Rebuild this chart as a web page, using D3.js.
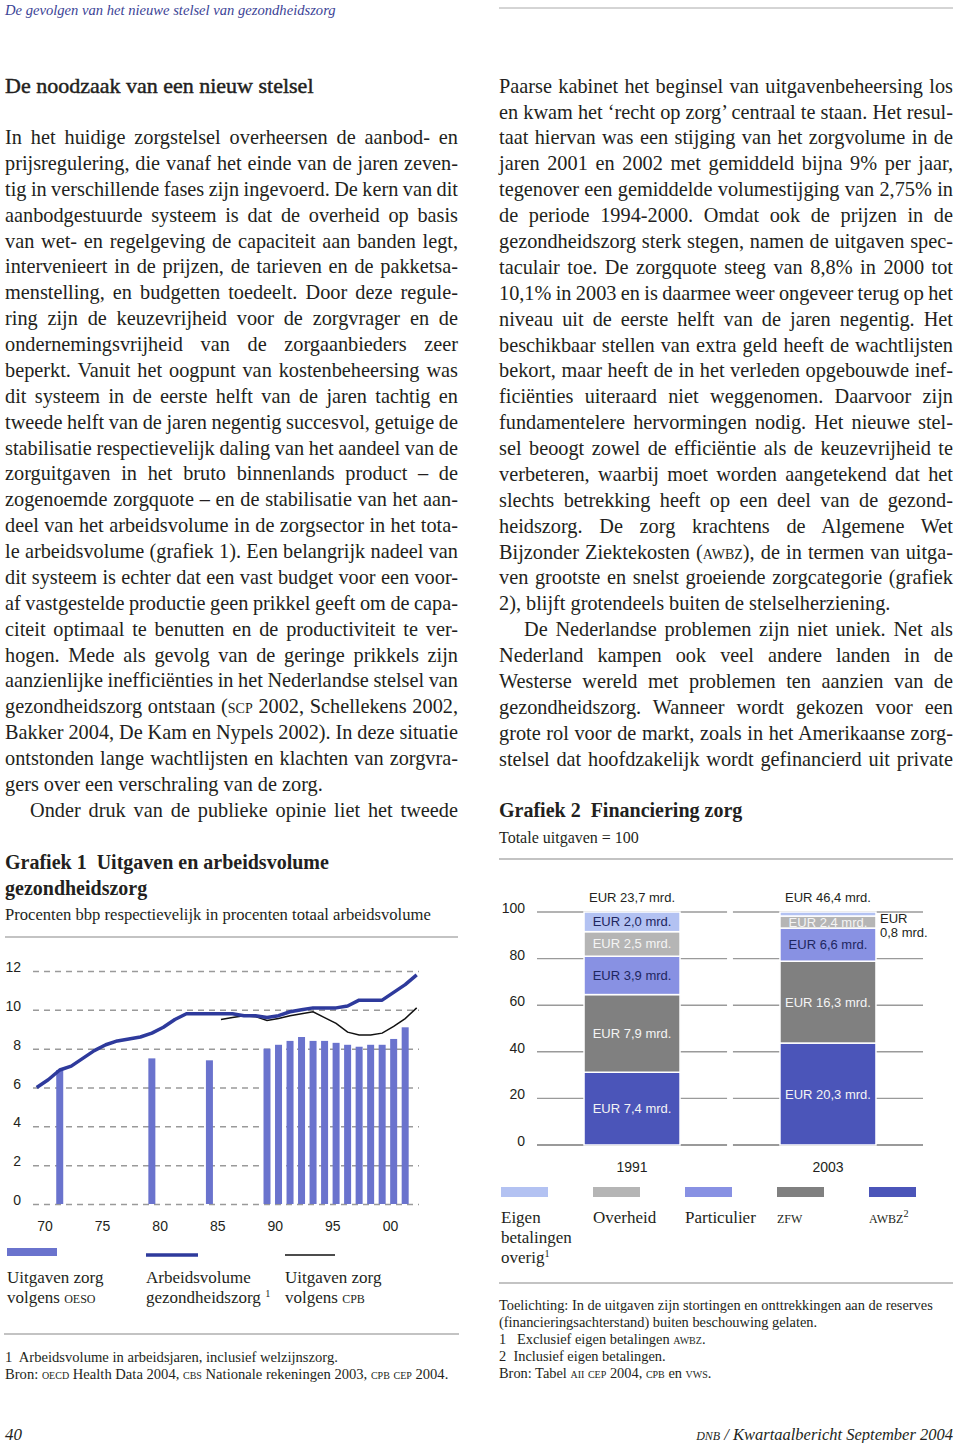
<!DOCTYPE html>
<html>
<head>
<meta charset="utf-8">
<script src="https://cdn.jsdelivr.net/npm/d3@7"></script>
<style>
body { margin: 0; background: #fff; }
svg { display: block; }
.serif { font-family: "Liberation Serif", "Times New Roman", serif; fill: #231f20; }
.sans { font-family: "Liberation Sans", Arial, sans-serif; fill: #231f20; }
</style>
</head>
<body>
<div id="page"></div>
<script>
// ---- grafiek 1: uitgaven en arbeidsvolume (procenten)
const oesoYears = [1972, 1980, 1985, 1990, 1991, 1992, 1993, 1994, 1995, 1996, 1997, 1998, 1999, 2000, 2001, 2002]
const oesoValues = [6.9, 7.5, 7.4, 8.0, 8.2, 8.4, 8.6, 8.4, 8.4, 8.3, 8.2, 8.1, 8.2, 8.2, 8.5, 9.1]
const laborYears = d3.range(1970, 2004)
const laborValues = [6.0, 6.4, 6.9, 7.1, 7.5, 7.9, 8.2, 8.4, 8.5, 8.6, 8.8, 9.1, 9.5, 9.8, 9.8, 9.8, 9.8, 9.8,
    9.7, 9.7, 9.6, 9.7, 9.9, 10.0, 10.1, 10.1, 10.1, 10.2, 10.5, 10.5, 10.5, 10.9, 11.3, 11.8]
const cpbYears = d3.range(1986, 2004)
const cpbValues = [9.5, 9.6, 9.7, 9.65, 9.45, 9.55, 9.7, 9.8, 9.9, 9.6, 9.3, 8.85, 8.7, 8.7, 8.8, 9.15, 9.55, 10.1]
const yTicks1 = [0, 2, 4, 6, 8, 10, 12]
const xTicks1 = [1970, 1975, 1980, 1985, 1990, 1995, 2000]

// ---- grafiek 2: financiering zorg (EUR mrd.)
const finYears = ['1991', '2003']
const finTotals = [23.7, 46.4]
const finSources = ['Eigen', 'Overheid', 'Particulier', 'ZFW', 'AWBZ']
const eigenValues = [2.0, 0.8]
const overheidValues = [2.5, 2.4]
const particulierValues = [3.9, 6.6]
const zfwValues = [7.9, 16.3]
const awbzValues = [7.4, 20.3]
const yTicks2 = [0, 20, 40, 60, 80, 100]

// ---- tekst
const leftLines = [
    'In het huidige zorgstelsel overheersen de aanbod- en',
    'prijsregulering, die vanaf het einde van de jaren zeven-',
    'tig in verschillende fases zijn ingevoerd. De kern van dit',
    'aanbodgestuurde systeem is dat de overheid op basis',
    'van wet- en regelgeving de capaciteit aan banden legt,',
    'intervenieert in de prijzen, de tarieven en de pakketsa-',
    'menstelling, en budgetten toedeelt. Door deze regule-',
    'ring zijn de keuzevrijheid voor de zorgvrager en de',
    'ondernemingsvrijheid van de zorgaanbieders zeer',
    'beperkt. Vanuit het oogpunt van kostenbeheersing was',
    'dit systeem in de eerste helft van de jaren tachtig en',
    'tweede helft van de jaren negentig succesvol, getuige de',
    'stabilisatie respectievelijk daling van het aandeel van de',
    'zorguitgaven in het bruto binnenlands product – de',
    'zogenoemde zorgquote – en de stabilisatie van het aan-',
    'deel van het arbeidsvolume in de zorgsector in het tota-',
    'le arbeidsvolume (grafiek 1). Een belangrijk nadeel van',
    'dit systeem is echter dat een vast budget voor een voor-',
    'af vastgestelde productie geen prikkel geeft om de capa-',
    'citeit optimaal te benutten en de productiviteit te ver-',
    'hogen. Mede als gevolg van de geringe prikkels zijn',
    'aanzienlijke inefficiënties in het Nederlandse stelsel van',
    'gezondheidszorg ontstaan ([scp] 2002, Schellekens 2002,',
    'Bakker 2004, De Kam en Nypels 2002). In deze situatie',
    'ontstonden lange wachtlijsten en klachten van zorgvra-',
    'gers over een verschraling van de zorg.¶',
    '>Onder druk van de publieke opinie liet het tweede'
]
const rightLines = [
    'Paarse kabinet het beginsel van uitgavenbeheersing los',
    'en kwam het ‘recht op zorg’ centraal te staan. Het resul-',
    'taat hiervan was een stijging van het zorgvolume in de',
    'jaren 2001 en 2002 met gemiddeld bijna 9% per jaar,',
    'tegenover een gemiddelde volumestijging van 2,75% in',
    'de periode 1994-2000. Omdat ook de prijzen in de',
    'gezondheidszorg sterk stegen, namen de uitgaven spec-',
    'taculair toe. De zorgquote steeg van 8,8% in 2000 tot',
    '10,1% in 2003 en is daarmee weer ongeveer terug op het',
    'niveau uit de eerste helft van de jaren negentig. Het',
    'beschikbaar stellen van extra geld heeft de wachtlijsten',
    'bekort, maar heeft de in het verleden opgebouwde inef-',
    'ficiënties uiteraard niet weggenomen. Daarvoor zijn',
    'fundamentelere hervormingen nodig. Het nieuwe stel-',
    'sel beoogt zowel de efficiëntie als de keuzevrijheid te',
    'verbeteren, waarbij moet worden aangetekend dat het',
    'slechts betrekking heeft op een deel van de gezond-',
    'heidszorg. De zorg krachtens de Algemene Wet',
    'Bijzonder Ziektekosten ([awbz]), de in termen van uitga-',
    'ven grootste en snelst groeiende zorgcategorie (grafiek',
    '2), blijft grotendeels buiten de stelselherziening.¶',
    '>De Nederlandse problemen zijn niet uniek. Net als',
    'Nederland kampen ook veel andere landen in de',
    'Westerse wereld met problemen ten aanzien van de',
    'gezondheidszorg. Wanneer wordt gekozen voor een',
    'grote rol voor de markt, zoals in het Amerikaanse zorg-',
    'stelsel dat hoofdzakelijk wordt gefinancierd uit private'
]

const W = 960, H = 1443
const bodySize = 20.3, lineH = 25.88

const svg = d3.select('#page').append('svg')
    .attr('width', W).attr('height', H)
svg.append('rect').attr('width', W).attr('height', H).attr('fill', '#fff')

// [tekst] = kleinkapitaal, {x} = superscript
function richText(sel, str) {
    str.split(/(\[[^\]]*\]|\{[^}]*\})/).filter(s => s.length).forEach(part => {
        if (part[0] == '[')
            sel.append('tspan').style('font-variant', 'small-caps').text(part.slice(1, -1))
        else if (part[0] == '{')
            sel.append('tspan').attr('dy', -6).attr('font-size', '0.6em').text(part.slice(1, -1))
        else sel.append('tspan').text(part)
    })
    return sel
}

function textBlock(x, y, str, cls, size, extra) {
    const t = svg.append('text').attr('class', cls)
        .attr('x', x).attr('y', y)
        .attr('font-size', size)
        .style('white-space', 'pre')
    if (extra) extra(t)
    return richText(t, str)
}

// uitvullen via woordafstand, samendrukken alleen als het niet anders kan
function column(lines, x0, y0, width) {
    lines.forEach((raw, i) => {
        const indent = raw.startsWith('>') ? 25 : 0
        const last = raw.endsWith('¶')
        const str = raw.replace(/^>/, '').replace(/¶$/, '')
        const t = textBlock(x0 + indent, y0 + i * lineH, str, 'serif', bodySize)
        const target = width - indent
        const nat = t.node().getComputedTextLength()
        const spaces = (str.match(/ /g) || []).length
        if (last && nat <= target) return
        const ws = spaces > 0 ? (target - nat) / spaces : 0
        if (spaces > 0 && ws >= -2.2) t.attr('word-spacing', ws)
        else t.attr('textLength', target).attr('lengthAdjust', 'spacingAndGlyphs')
    })
}

// ---- kop en voet
textBlock(5, 15, 'De gevolgen van het nieuwe stelsel van gezondheidszorg', 'serif', 14.6,
    t => t.style('font-style', 'italic').style('fill', '#3b4396'))
svg.append('line').attr('x1', 499).attr('x2', 953).attr('y1', 8).attr('y2', 8)
    .attr('stroke', '#aaa').attr('stroke-width', 1)
textBlock(5, 1440, '40', 'serif', 17, t => t.style('font-style', 'italic'))
textBlock(953, 1440, '[dnb] / Kwartaalbericht September 2004', 'serif', 16.5,
    t => t.style('font-style', 'italic').attr('text-anchor', 'end'))

textBlock(5, 93, 'De noodzaak van een nieuw stelsel', 'serif', 22,
    t => t.attr('stroke', '#231f20').attr('stroke-width', 0.45))

column(leftLines, 5, 144, 453)
column(rightLines, 499, 92.7, 454)

// ---- grafiek 1
textBlock(5, 869, 'Grafiek 1  Uitgaven en arbeidsvolume', 'serif', 20, t => t.attr('font-weight', 'bold'))
textBlock(5, 895, 'gezondheidszorg', 'serif', 20, t => t.attr('font-weight', 'bold'))
textBlock(5, 920, 'Procenten bbp respectievelijk in procenten totaal arbeidsvolume', 'serif', 16.6)
svg.append('line').attr('x1', 5).attr('x2', 458).attr('y1', 937).attr('y2', 937)
    .attr('stroke', '#888').attr('stroke-width', 1.2)

const x1 = d3.scaleLinear().domain([1970, 2003]).range([36.7, 416.7])
const y1 = d3.scaleLinear().domain([0, 12]).range([1204, 971])
const barColor = '#6a73cd', laborColor = '#2e3a9c'

const g1 = svg.append('g')
const yAxis1 = g1.append('g').attr('class', 'sans')
    .attr('transform', 'translate(33,0)')
    .call(d3.axisLeft(y1).tickValues(yTicks1).tickSize(-386).tickPadding(12))
yAxis1.select('.domain').remove()
yAxis1.selectAll('line').attr('stroke', '#9a9a9a').attr('stroke-width', 1.5).attr('stroke-dasharray', '6,5')
yAxis1.selectAll('text').attr('font-size', 14).attr('dy', 0.5).attr('fill', '#231f20')
    .style('font-family', '"Liberation Sans", Arial, sans-serif')

const xAxis1 = g1.append('g')
    .attr('transform', 'translate(0,1212)')
    .call(d3.axisBottom(x1).tickValues(xTicks1).tickSize(0).tickPadding(9)
        .tickFormat(d => d3.format('02')(d % 100)))
xAxis1.select('.domain').remove()
xAxis1.selectAll('text').attr('font-size', 14).attr('text-anchor', 'start').attr('fill', '#231f20')
    .style('font-family', '"Liberation Sans", Arial, sans-serif')

g1.selectAll('.oeso').data(oesoYears).join('rect')
    .attr('class', 'oeso')
    .attr('x', d => x1(d) - 3.5)
    .attr('width', 7)
    .attr('y', (d, i) => y1(oesoValues[i]))
    .attr('height', (d, i) => y1(0) - y1(oesoValues[i]))
    .attr('fill', barColor)

g1.append('path')
    .datum(cpbYears.map((d, i) => [d, cpbValues[i]]))
    .attr('fill', 'none').attr('stroke', '#111').attr('stroke-width', 1.5)
    .attr('d', d3.line().x(d => x1(d[0])).y(d => y1(d[1])))

g1.append('path')
    .datum(laborYears.map((d, i) => [d, laborValues[i]]))
    .attr('fill', 'none').attr('stroke', laborColor).attr('stroke-width', 3.5)
    .attr('stroke-linejoin', 'round')
    .attr('d', d3.line().x(d => x1(d[0])).y(d => y1(d[1])))

// legenda grafiek 1
svg.append('rect').attr('x', 7).attr('y', 1248).attr('width', 50).attr('height', 8).attr('fill', barColor)
svg.append('line').attr('x1', 146).attr('x2', 198).attr('y1', 1255).attr('y2', 1255)
    .attr('stroke', laborColor).attr('stroke-width', 3.5)
svg.append('line').attr('x1', 285).attr('x2', 335).attr('y1', 1255).attr('y2', 1255)
    .attr('stroke', '#111').attr('stroke-width', 1.5)
const legend1 = [
    [7, ['Uitgaven zorg', 'volgens [oeso]']],
    [146, ['Arbeidsvolume', 'gezondheidszorg {1}']],
    [285, ['Uitgaven zorg', 'volgens [cpb]']]
]
legend1.forEach(([x, lines]) => lines.forEach((l, i) => textBlock(x, 1283 + i * 19.5, l, 'serif', 17)))

svg.append('line').attr('x1', 4).attr('x2', 459).attr('y1', 1334).attr('y2', 1334)
    .attr('stroke', '#888').attr('stroke-width', 1.2)
textBlock(5, 1362, '1  Arbeidsvolume in arbeidsjaren, inclusief welzijnszorg.', 'serif', 14.6)
textBlock(5, 1379, 'Bron: [oecd] Health Data 2004, [cbs] Nationale rekeningen 2003, [cpb cep] 2004.', 'serif', 14.6)

// ---- grafiek 2
textBlock(499, 817, 'Grafiek 2  Financiering zorg', 'serif', 20, t => t.attr('font-weight', 'bold'))
textBlock(499, 843, 'Totale uitgaven = 100', 'serif', 16)
svg.append('line').attr('x1', 499).attr('x2', 953).attr('y1', 859).attr('y2', 859)
    .attr('stroke', '#888').attr('stroke-width', 1.2)

const finColors = ['#b3c2f2', '#b5b5b5', '#8891e3', '#808080', '#4b55b9']
const finLabelColors = ['#1e2660', '#f4f4f4', '#1e2660', '#f4f4f4', '#f4f4f4']
const finSeries = [eigenValues, overheidValues, particulierValues, zfwValues, awbzValues]

const finTable = finYears.map((year, j) => {
    const row = { year, total: finTotals[j] }
    finSources.forEach((s, k) => row[s] = finSeries[k][j])
    return row
})
const stack = d3.stack()
    .keys(finSources.slice().reverse())
    .value((d, key) => d[key] / d.total * 100)
const stacked = stack(finTable)

const x2 = d3.scaleBand().domain(finYears).range([537, 923]).paddingInner(0.03)
const y2 = d3.scaleLinear().domain([0, 100]).range([1145, 912])
const barW = 96
const fmt = d3.formatLocale({ decimal: ',', thousands: '.', grouping: [3], currency: ['', ''] }).format('.1f')

const g2 = svg.append('g')
finYears.forEach(year => {
    g2.selectAll(null).data(yTicks2).join('line')
        .attr('x1', x2(year)).attr('x2', x2(year) + x2.bandwidth())
        .attr('y1', d => y2(d)).attr('y2', d => y2(d))
        .attr('stroke', '#9a9a9a').attr('stroke-width', d => d == 0 ? 2 : 1.4)
})
const yAxis2 = g2.append('g')
    .attr('transform', 'translate(525,0)')
    .call(d3.axisLeft(y2).tickValues(yTicks2).tickSize(0).tickPadding(0))
yAxis2.select('.domain').remove()
yAxis2.selectAll('text').attr('font-size', 14).attr('dy', 0.5).attr('fill', '#231f20')
    .style('font-family', '"Liberation Sans", Arial, sans-serif')

const xAxis2 = g2.append('g')
    .attr('transform', 'translate(0,1152)')
    .call(d3.axisBottom(x2).tickSize(0).tickPadding(10))
xAxis2.select('.domain').remove()
xAxis2.selectAll('text').attr('font-size', 14).attr('fill', '#231f20')
    .style('font-family', '"Liberation Sans", Arial, sans-serif')

const barX = d => x2(d.data.year) + (x2.bandwidth() - barW) / 2
stacked.forEach(layer => {
    const k = finSources.indexOf(layer.key)
    const grp = g2.append('g')
    grp.selectAll('rect').data(layer).join('rect')
        .attr('x', barX).attr('width', barW)
        .attr('y', d => y2(d[1])).attr('height', d => y2(d[0]) - y2(d[1]))
        .attr('fill', finColors[k])
        .attr('stroke', '#fff').attr('stroke-width', 1.5)
    grp.selectAll('text').data(layer).join('text')
        .attr('class', 'sans')
        .attr('font-size', 13)
        .each(function (d) {
            const t = d3.select(this)
            const cy = (y2(d[0]) + y2(d[1])) / 2
            const v = d.data[layer.key]
            if (y2(d[0]) - y2(d[1]) < 8) {
                const lx = barX(d) + barW + 4
                t.attr('x', lx).attr('y', cy + 8.5).style('fill', '#231f20')
                t.append('tspan').attr('x', lx).text('EUR')
                t.append('tspan').attr('x', lx).attr('dy', 14).text(fmt(v) + ' mrd.')
            } else {
                t.attr('x', barX(d) + barW / 2).attr('y', cy + 4.5)
                    .attr('text-anchor', 'middle').style('fill', finLabelColors[k])
                    .text('EUR ' + fmt(v) + ' mrd.')
            }
        })
})
g2.selectAll('.total').data(finTable).join('text')
    .attr('class', 'sans total')
    .attr('font-size', 13)
    .attr('x', d => x2(d.year) + x2.bandwidth() / 2)
    .attr('y', 902)
    .attr('text-anchor', 'middle')
    .text(d => 'EUR ' + fmt(d.total) + ' mrd.')

// legenda grafiek 2
const legend2 = [
    ['Eigen', 'betalingen', 'overig{1}'],
    ['Overheid'],
    ['Particulier'],
    ['[zfw]'],
    ['[awbz]{2}']
]
finSources.forEach((s, k) => {
    const lx = 501 + k * 92
    svg.append('rect').attr('x', lx).attr('y', 1187).attr('width', 47).attr('height', 10)
        .attr('fill', finColors[k])
    legend2[k].forEach((l, i) => textBlock(lx, 1223 + i * 20, l, 'serif', 17))
})

svg.append('line').attr('x1', 499).attr('x2', 953).attr('y1', 1283).attr('y2', 1283)
    .attr('stroke', '#888').attr('stroke-width', 1.2)
const notes2 = [
    'Toelichting: In de uitgaven zijn stortingen en onttrekkingen aan de reserves',
    '(financieringsachterstand) buiten beschouwing gelaten.',
    '1   Exclusief eigen betalingen [awbz].',
    '2  Inclusief eigen betalingen.',
    'Bron: Tabel [aii cep] 2004, [cpb] en [vws].'
]
notes2.forEach((l, i) => textBlock(499, 1310 + i * 17, l, 'serif', 14.4))
</script>
</body>
</html>
